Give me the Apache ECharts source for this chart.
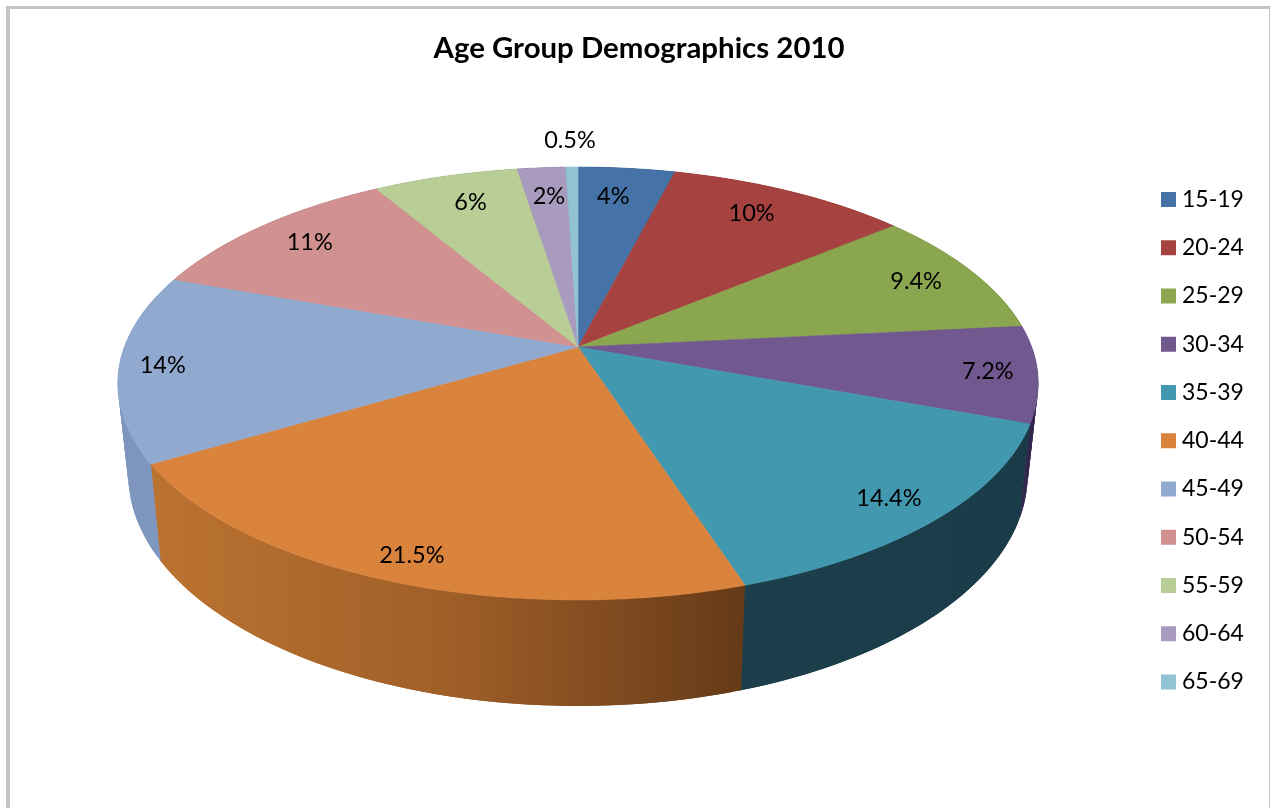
<!DOCTYPE html>
<html><head><meta charset="utf-8">
<style>html,body{margin:0;padding:0;background:#fff}#c{width:1270px;height:808px}</style>
<script src="https://cdn.jsdelivr.net/npm/echarts@6/dist/echarts.min.js"></script>
</head><body><div id="c"></div>
<script>
const chartTitle = 'Age Group Demographics 2010';
const ageGroups = ['15-19','20-24','25-29','30-34','35-39','40-44','45-49','50-54','55-59','60-64','65-69'];
const shares = [4,10,9.4,7.2,14.4,21.5,14,11,6,2,0.5];
const shareLabels = ['4%','10%','9.4%','7.2%','14.4%','21.5%','14%','11%','6%','2%','0.5%'];

const topColors = ['#4573a7','#a64340','#8aa64f','#71588f','#4198af','#da833c','#91a8cf','#d09190','#b9cd96','#a99bbd','#91c3d5'];
const wallColors = [['#2a4566','#2a4566'],['#652826','#652826'],['#546430','#546430'],['#33264c','#33264c'],['#1c3f4b','#1a3c48'],['#bb7331','#a05f28','#653a18'],['#7d95bd','#8199c0'],['#8a6160','#8a6160'],['#7a8763','#7a8763'],['#6f667d','#6f667d'],['#5f808c','#5f808c']];
const labelRadius = [0.85,0.8,0.85,0.9,0.9,0.9,0.9,0.85,0.82,0.8,1.18];
const labelNudge = [[-7,5],[-1,-6],[1,0],[-3,0],[-7,-2],[2,2],[-3,0],[4,0],[4,-1],[1,-3],[-1,0]];

// perspective projection of the pie disc
const CX=578, CY=347, R=453.6, A=210.3, K=0.1686;
function topPoint(ang,r){ const X=r*Math.sin(ang), Y=-r*Math.cos(ang), d=1-K*Y; return [CX+R*X/d, CY+A*Y/d]; }
function bottomPoint(p){ return [CX+0.977*(p[0]-CX), 1.066*p[1]+66.4]; }
const toAngle = pct => pct/100*2*Math.PI;

let running=0;
const cumulative = shares.map(v=>{const s=running; running+=v; return s;});

function renderSlice(params, api){
  const start=api.value(0), val=api.value(1), idx=params.seriesIndex;
  const a0=toAngle(start), a1=toAngle(start+val);
  const n=Math.max(4,Math.ceil(val*4));
  const arc=[], wallArc=[];
  for(let i=0;i<=n;i++){
    arc.push(topPoint(a0+(a1-a0)*i/n,1));
    wallArc.push(topPoint(a0+(a1+0.004-a0)*i/n,1));
  }
  const low=wallArc.map(bottomPoint);
  const xs=wallArc.concat(low).map(p=>p[0]);
  const stops=wallColors[idx].map((c,i,l)=>({offset:i/(l.length-1),color:c}));
  const wallFill=new echarts.graphic.LinearGradient(Math.min(...xs),0,Math.max(...xs),0,stops,true);
  const color=topColors[idx];
  const mid=(a0+a1)/2, lp=topPoint(mid,labelRadius[idx]), nudge=labelNudge[idx];
  const children=[];
  for(let i=0;i<n;i++){
    const j=Math.min(n,i+2);
    children.push({type:'polygon',z2:1,shape:{points:[wallArc[i],wallArc[j],low[j],low[i]]},style:{fill:wallFill}});
  }
  children.push({type:'polygon',z2:5,shape:{points:[[CX,CY]].concat(arc)},style:{fill:color,stroke:color,lineWidth:0.6}});
  children.push({type:'text',z2:10,style:{text:shareLabels[idx],x:lp[0]+nudge[0],y:lp[1]+nudge[1],align:'center',verticalAlign:'middle',fill:'#000',font:'23.5px Lato, sans-serif'}});
  return {type:'group',children};
}

const chart=echarts.init(document.getElementById('c'),null,{renderer:'canvas'});
chart.setOption({
  animation:false,
  backgroundColor:'#fff',
  title:{text:chartTitle,left:634,top:29,textAlign:'center',textStyle:{color:'#000',fontWeight:'bold',fontSize:29.4,fontFamily:'Lato, sans-serif'}},
  legend:{orient:'vertical',left:1156,top:183,icon:'rect',itemWidth:15,itemHeight:15,itemGap:25.25,selectedMode:false,
    textStyle:{color:'#000',fontSize:23,fontFamily:'Lato, sans-serif',padding:[0,0,0,1]},data:ageGroups},
  graphic:[
    {type:'rect',z:-1,shape:{x:6,y:6,width:4,height:802},style:{fill:'#c4c4c4'}},
    {type:'rect',z:-1,shape:{x:6,y:6,width:1264,height:3},style:{fill:'#c4c4c4'}},
    {type:'rect',z:-1,shape:{x:1269,y:6,width:1,height:802},style:{fill:'#c4c4c4'}}
  ],
  series:ageGroups.map((name,i)=>({
    type:'custom',name,coordinateSystem:'none',silent:true,
    itemStyle:{color:topColors[i]},
    renderItem:renderSlice,
    data:[[cumulative[i],shares[i]]]
  }))
});
</script></body></html>
